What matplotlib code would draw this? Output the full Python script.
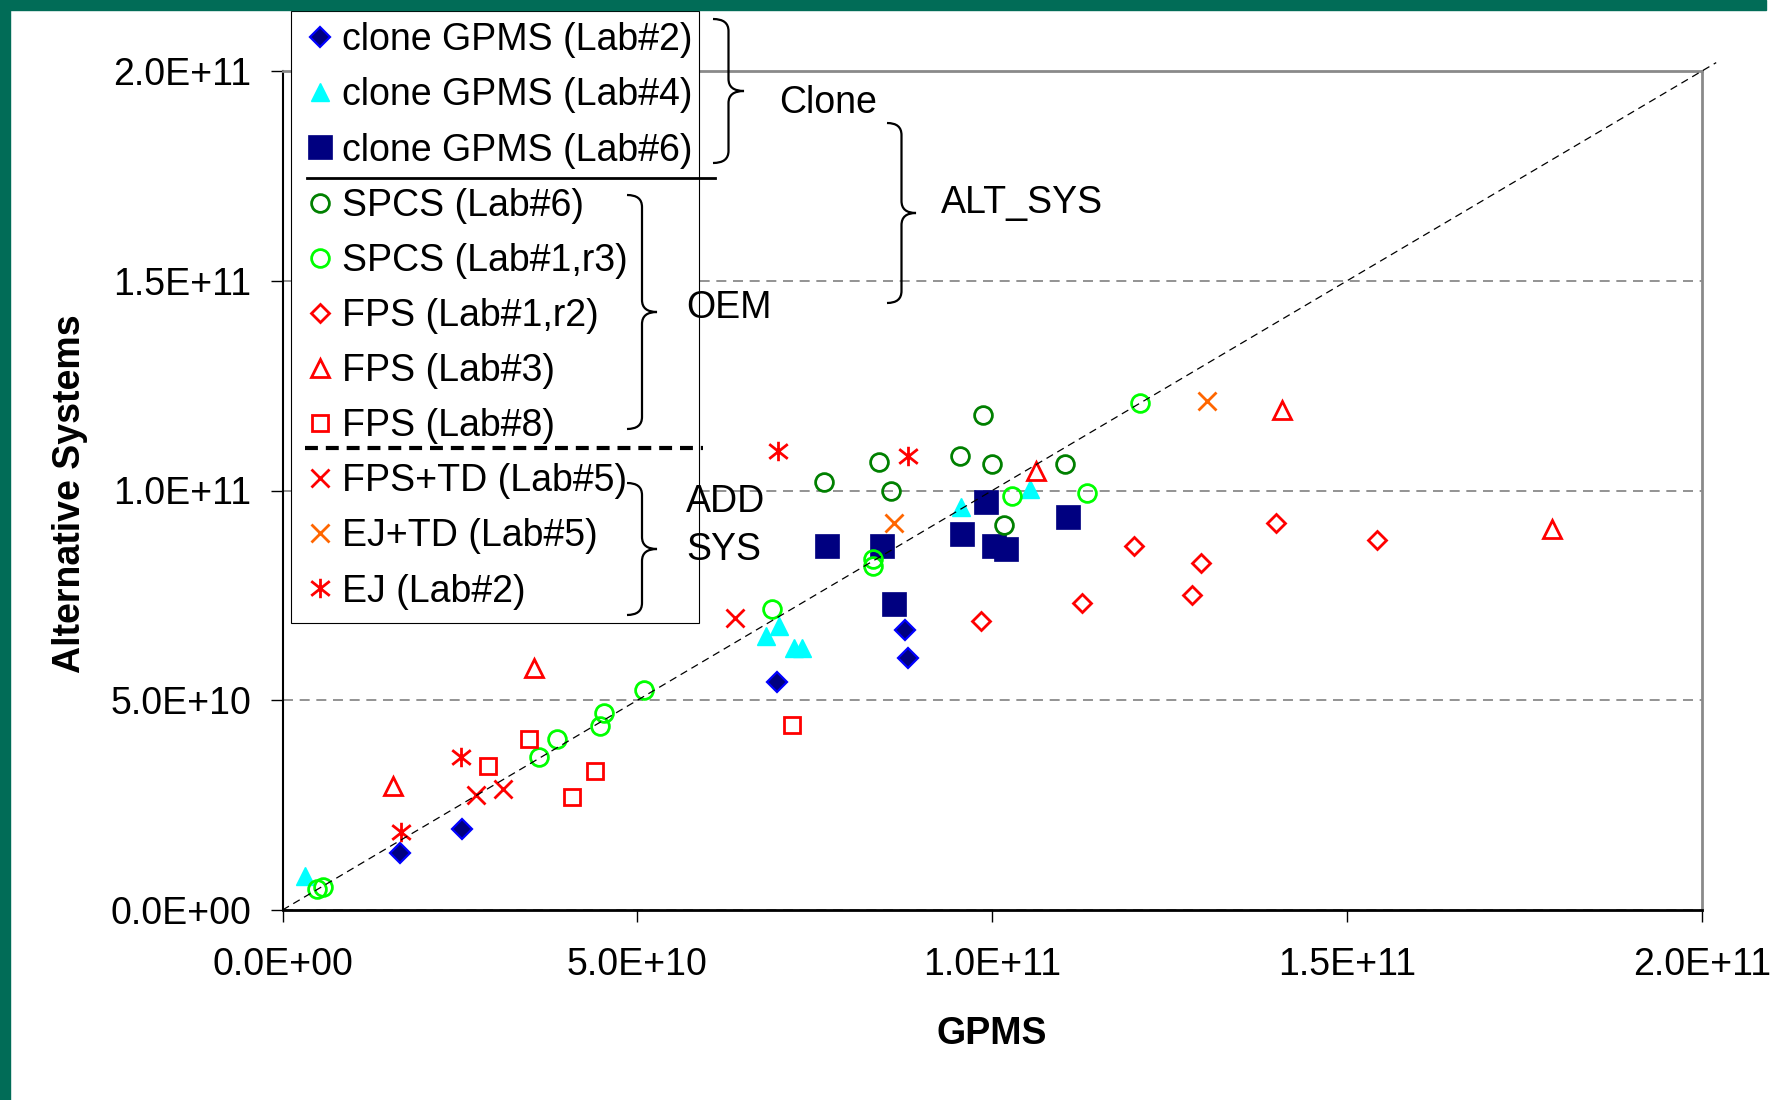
import matplotlib
matplotlib.use("Agg")
import matplotlib.pyplot as plt
from matplotlib.lines import Line2D
from matplotlib.path import Path
from matplotlib.patches import PathPatch, Rectangle
from matplotlib.transforms import Affine2D
from matplotlib.ticker import FuncFormatter

plt.rcParams['font.family'] = ['Liberation Sans', 'DejaVu Sans']

# ---------- DATA (units of 1e10) ----------
SCALE = 1e10

clone_lab2_x = [1.66, 2.53, 6.97, 8.77, 8.82]
clone_lab2_y = [1.37, 1.92, 5.44, 6.67, 6.00]

clone_lab4_x = [0.31, 6.81, 6.99, 7.20, 7.32, 9.56, 10.53]
clone_lab4_y = [0.82, 6.52, 6.77, 6.25, 6.25, 9.61, 10.03]

clone_lab6_x = [7.67, 8.44, 8.61, 9.58, 9.91, 10.02, 10.20, 11.07]
clone_lab6_y = [8.68, 8.68, 7.29, 8.96, 9.73, 8.68, 8.61, 9.38]

spcs_lab6_x = [7.63, 8.40, 8.57, 9.55, 9.87, 10.00, 10.16, 11.02]
spcs_lab6_y = [10.20, 10.69, 9.99, 10.82, 11.79, 10.62, 9.18, 10.62]

spcs_lab1_x = [0.49, 0.57, 3.62, 3.87, 4.48, 4.53, 5.10, 6.89, 8.32, 8.32, 10.28, 11.34, 12.08]
spcs_lab1_y = [0.49, 0.56, 3.65, 4.07, 4.39, 4.70, 5.24, 7.18, 8.36, 8.20, 9.87, 9.93, 12.08]

fps_lab1_x = [9.84, 11.26, 12.00, 12.81, 12.94, 14.00, 15.42]
fps_lab1_y = [6.90, 7.31, 8.68, 7.51, 8.28, 9.23, 8.82]

fps_lab3_x = [1.55, 3.55, 10.61, 14.08, 17.88]
fps_lab3_y = [2.95, 5.78, 10.47, 11.92, 9.08]

fps_lab8_x = [2.90, 3.47, 4.08, 4.41, 7.18]
fps_lab8_y = [3.44, 4.07, 2.70, 3.31, 4.41]

fpstd_lab5_x = [2.73, 3.10, 6.37]
fpstd_lab5_y = [2.74, 2.88, 6.96]

ejtd_lab5_x = [8.61, 13.02]
ejtd_lab5_y = [9.23, 12.13]

ej_lab2_x = [1.67, 2.52, 6.98, 8.82]
ej_lab2_y = [1.87, 3.65, 10.95, 10.82]

diag = [0, 20.2]
ticks = [0, 5, 10, 15, 20]

# asterisk marker like the Excel one: vertical bar plus an x
asterisk = Path([(0, -1), (0, 1), (-0.95, -0.75), (0.95, 0.75), (-0.95, 0.75), (0.95, -0.75)],
                [Path.MOVETO, Path.LINETO, Path.MOVETO, Path.LINETO, Path.MOVETO, Path.LINETO])

series = [
    ("clone GPMS (Lab#2)", clone_lab2_x, clone_lab2_y,
     dict(marker='D', ms=10.2, mfc='#000080', mec='#0000FF', mew=1.6)),
    ("clone GPMS (Lab#4)", clone_lab4_x, clone_lab4_y,
     dict(marker='^', ms=13.5, mfc='#00FFFF', mec='#00FFFF', mew=1)),
    ("clone GPMS (Lab#6)", clone_lab6_x, clone_lab6_y,
     dict(marker='s', ms=17.5, mfc='#000080', mec='#000080', mew=0.5)),
    ("SPCS (Lab#6)", spcs_lab6_x, spcs_lab6_y,
     dict(marker='o', ms=12.8, mfc='none', mec='#008000', mew=2)),
    ("SPCS (Lab#1,r3)", spcs_lab1_x, spcs_lab1_y,
     dict(marker='o', ms=12.8, mfc='none', mec='#00FF00', mew=2)),
    ("FPS (Lab#1,r2)", fps_lab1_x, fps_lab1_y,
     dict(marker='D', ms=9.6, mfc='none', mec='#FF0000', mew=2)),
    ("FPS (Lab#3)", fps_lab3_x, fps_lab3_y,
     dict(marker='^', ms=12.8, mfc='none', mec='#FF0000', mew=2)),
    ("FPS (Lab#8)", fps_lab8_x, fps_lab8_y,
     dict(marker='s', ms=12.2, mfc='none', mec='#FF0000', mew=2)),
    ("FPS+TD (Lab#5)", fpstd_lab5_x, fpstd_lab5_y,
     dict(marker='x', ms=13, mec='#FF0000', mew=2)),
    ("EJ+TD (Lab#5)", ejtd_lab5_x, ejtd_lab5_y,
     dict(marker='x', ms=13, mec='#FF6600', mew=2)),
    ("EJ (Lab#2)", ej_lab2_x, ej_lab2_y,
     dict(marker=asterisk, ms=14, mfc='none', mec='#FF0000', mew=2)),
]

# ---------- FIGURE ----------
W, H = 1773, 1100
fig = plt.figure(figsize=(W / 100, H / 100), dpi=100)
ax = fig.add_axes([282.5 / W, 1 - 910 / H, (1702 - 282.5) / W, (910 - 71) / H])

# pixel coords measured from top-left of the picture
px = Affine2D().scale(1 / W, -1 / H).translate(0, 1) + fig.transFigure

# green slide frame
fig.patches.append(Rectangle((0, 0), 1766, 10, transform=px, color='#016C57', zorder=0))
fig.patches.append(Rectangle((0, 0), 10, H, transform=px, color='#016C57', zorder=0))

for label, xs, ys, st in series:
    ax.plot([v * SCALE for v in xs], [v * SCALE for v in ys], linestyle='none', label=label, **st)

ax.plot([v * SCALE for v in diag], [v * SCALE for v in diag], color='black', lw=0.9,
        ls=(0, (6, 4)), clip_on=False, zorder=10)

ax.set_xlim(0, 20 * SCALE)
ax.set_ylim(0, 20 * SCALE)
ax.set_xticks([t * SCALE for t in ticks])
ax.set_yticks([t * SCALE for t in ticks])
fmt = FuncFormatter(lambda v, p: f"{v:.1E}")
ax.xaxis.set_major_formatter(fmt)
ax.yaxis.set_major_formatter(fmt)

ax.set_axisbelow(True)
ax.yaxis.grid(True, color='#808080', ls=(0, (6, 4)), lw=1.2)

for side in ['top', 'right']:
    ax.spines[side].set_color('#8a8a8a')
    ax.spines[side].set_linewidth(2)
ax.spines['left'].set_linewidth(1.5)
ax.spines['bottom'].set_linewidth(2)

ax.tick_params(axis='both', direction='out', length=8.3, width=1, labelsize=27)
ax.tick_params(axis='y', pad=14.4)
ax.tick_params(axis='x', pad=18)

ax.set_xlabel('GPMS', fontsize=27, fontweight='bold', va='baseline')
ax.xaxis.set_label_coords(0.5, (910 - 1044) / 839)
ax.set_ylabel('Alternative Systems', fontsize=27, fontweight='bold', va='center')
ax.yaxis.set_label_coords((70 - 282.5) / 1419.5, (910 - 494) / 839)

# ---------- LEGEND ----------
box = Rectangle((291, 10.7), 408.4, 612.6, transform=px, fc='white', ec='black',
                lw=0.8, clip_on=False, zorder=15)
ax.add_patch(box)
leg = ax.legend(loc='upper left', bbox_to_anchor=(301.25 / W, 1 - 22.3 / H),
                bbox_transform=fig.transFigure, frameon=False, borderpad=0,
                borderaxespad=0, handlelength=1.0, handletextpad=0.08,
                labelspacing=0.51, prop={'size': 27}, numpoints=1)
leg.set_zorder(20)

# separators inside the legend
fig.add_artist(Line2D([307.3, 715], [178.3, 178.3], transform=px, color='black', lw=2))
fig.add_artist(Line2D([305, 703.3], [448.3, 448.3], transform=px, color='black', lw=3,
                      ls=(0, (3.1, 1.9))))


# ---------- BRACES ----------
def brace(x0, y_top, y_bot, w, r=12):
    xm = x0 + w / 2
    ym = (y_top + y_bot) / 2
    verts = [(x0, y_top), (xm, y_top), (xm, y_top + r),
             (xm, ym - r), (xm, ym), (x0 + w, ym),
             (xm, ym), (xm, ym + r),
             (xm, y_bot - r), (xm, y_bot), (x0, y_bot)]
    codes = [Path.MOVETO, Path.CURVE3, Path.CURVE3,
             Path.LINETO, Path.CURVE3, Path.CURVE3,
             Path.CURVE3, Path.CURVE3,
             Path.LINETO, Path.CURVE3, Path.CURVE3]
    fig.add_artist(PathPatch(Path(verts, codes), transform=px, fc='none', ec='black',
                             lw=1.6, zorder=30))


brace(713, 19, 163, 31)
brace(887, 123, 303, 29)
brace(627, 195, 429, 30)
brace(627, 483, 615, 30)

txt = dict(transform=px, fontsize=27, ha='left', va='baseline', zorder=30)
fig.text(779, 113, 'Clone', **txt)
fig.text(940.6, 213, 'ALT_SYS', **txt)
fig.text(686, 318.3, 'OEM', **txt)
fig.text(686, 511.7, 'ADD', **txt)
fig.text(686, 560, 'SYS', **txt)

fig.savefig('out.png', dpi=100)
